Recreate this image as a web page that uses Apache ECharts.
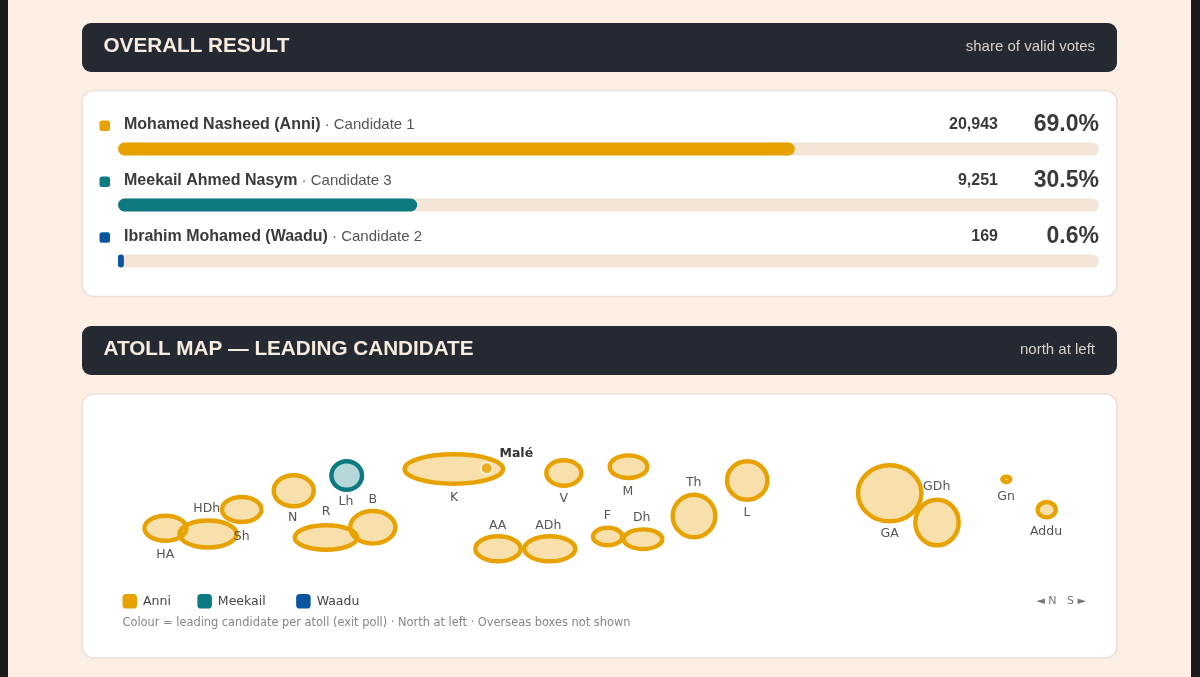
<!DOCTYPE html>
<html><head><meta charset="utf-8">
<style>html,body{margin:0;padding:0;background:#fdefe4}#c{width:1200px;height:677px}</style>
<script src="https://cdn.jsdelivr.net/npm/echarts@6/dist/echarts.min.js"></script>
</head><body><div id="c"></div>
<script>
// Overall result
const candidates = ['Mohamed Nasheed (Anni)', 'Meekail Ahmed Nasym', 'Ibrahim Mohamed (Waadu)'];
const ballot = ['Candidate 1', 'Candidate 3', 'Candidate 2'];
const votes = ['20,943', '9,251', '169'];
const shares = [69.0, 30.5, 0.6];
const shortNames = ['Anni', 'Meekail', 'Waadu'];
// Atoll map (map units, origin top-left of the map panel)
const atollNames = ['HA','HDh','Sh','N','Lh','R','B','K','V','M','AA','ADh','F','Dh','Th','L','GA','GDh','Gn','Addu'];
const atollX = [83.5,126,159.7,211.7,264.7,244,290.8,371.8,481.8,546.5,416,467.8,525.7,561,612,665.2,807.7,855,924.3,964.7];
const atollY = [134.3,140,115.5,96.8,81.5,143.5,133.3,75,79,72.7,154.8,154.8,142.5,145.2,122,86.5,99.3,128.5,85.3,115.7];
const atollRX = [21,28.5,19.7,20,15.3,31.3,22.5,49.2,17.5,18.8,22.7,25.5,14.7,19.3,21.3,20.2,31.7,21.7,4,9];
const atollRY = [12.5,13.5,12.5,15.5,14.2,12.2,16.3,14.7,12.7,11.3,12.5,12.5,8.8,9.8,21.3,19.2,28,22.8,2.7,7.7];
const atollLeader = ['Anni','Anni','Anni','Anni','Meekail','Anni','Anni','Anni','Anni','Anni','Anni','Anni','Anni','Anni','Anni','Anni','Anni','Anni','Anni','Anni'];
const labelX = [83.3,124.7,159.7,210.7,264,244,290.7,372,481.7,546,415.7,466.3,525.3,559.7,611.7,665,807.7,854.7,924,964];
const labelY = [160.8,114.8,142.8,123.5,107.7,118.2,106,103.5,104.8,97.8,132.2,132.2,121.5,123.5,89.2,118.8,139.8,93.2,103.2,137.5];
const capitalName = 'Malé';
const capitalPos = [404.7, 74.3];
const capitalLabelPos = [434.3, 60];

const COL = {Anni:'#E8A200', Meekail:'#0C7A80', Waadu:'#0B559F'};
const FILL = {Anni:'rgba(232,162,0,0.33)', Meekail:'rgba(12,122,128,0.3)', Waadu:'rgba(11,85,159,0.3)'};
const SANS = 'Liberation Sans';
const DJ = 'DejaVu Sans';
const barColors = shortNames.map(n => COL[n]);

function atollSeries(leader){
  const data = atollNames.map((n,i)=>[atollX[i],atollY[i],atollRX[i],atollRY[i],n,atollLeader[i]]).filter(d=>d[5]===leader);
  return {
    type:'custom', name:leader, xAxisIndex:1, yAxisIndex:1, z:3, clip:false,
    itemStyle:{color:COL[leader]},
    data,
    renderItem(p,api){
      const c = api.coord([api.value(0),api.value(1)]);
      const s = api.size([api.value(2),api.value(3)]);
      return {type:'ellipse', shape:{cx:c[0],cy:c[1],rx:s[0],ry:s[1]},
        style:{fill:FILL[leader],stroke:COL[leader],lineWidth:4.4}};
    }
  };
}
function txt(x,y,text,size,weight,fill,align,family){
  return {type:'text',z:10,x,y,style:{text,fill,fontSize:size,fontWeight:weight,fontFamily:family||SANS,align:align||'left',verticalAlign:'middle'}};
}
function panel(x,y,w,h){return {type:'rect',z:0,shape:{x,y,width:w,height:h,r:12},style:{fill:'#fff',stroke:'#ecdfd7',lineWidth:1.6}};}
function header(y,title,sub){return [
  {type:'rect',z:0,shape:{x:82,y,width:1035,height:49,r:9},style:{fill:'#252932'}},
  txt(103.5,y+23,title,20.7,'bold','#f7ecdf'),
  txt(1095,y+24,sub,15,'normal','#d8d2ca','right')
];}
const rowY = [125,181,237];
const dotY = [125.7,181.7,237.5];
const rows = candidates.flatMap((c,i)=>[
  {type:'rect',z:10,shape:{x:99.5,y:dotY[i]-5.2,width:10.5,height:10.5,r:2.5},style:{fill:barColors[i]}},
  {type:'text',z:10,x:124,y:rowY[i],style:{
     text:'{b|'+c+'}{n| · '+ballot[i]+'}',
     rich:{b:{fontWeight:'bold',fontSize:16,fontFamily:SANS,fill:'#3a3a3a'},
           n:{fontSize:15,fontFamily:SANS,fill:'#555'}},
     verticalAlign:'middle'}},
  txt(998,rowY[i],votes[i],16,'bold','#3a3a3a','right'),
  txt(1099,rowY[i],shares[i].toFixed(1)+'%',23,'bold','#3a3a3a','right')
]);

const chart = echarts.init(document.getElementById('c'),null,{renderer:'canvas'});
chart.setOption({
  animation:false,
  backgroundColor:'#fdefe4',
  grid:[
    {left:118,top:121,width:981,height:168},
    {left:82,top:394,width:1035,height:264}
  ],
  xAxis:[
    {type:'value',gridIndex:0,min:0,max:100,show:false},
    {type:'value',gridIndex:1,min:0,max:1035,show:false}
  ],
  yAxis:[
    {type:'category',gridIndex:0,inverse:true,data:candidates,show:false},
    {type:'value',gridIndex:1,min:0,max:264,inverse:true,show:false}
  ],
  legend:{
    data:shortNames,formatter:n=>n==='Meekail'?n+' ':n,
    left:122.5,top:594,padding:0,itemWidth:14.5,itemHeight:14.5,itemGap:26.5,icon:'roundRect',
    selectedMode:false,textStyle:{fontFamily:DJ,fontSize:12.5,color:'#444',padding:[0,0,0,1]}
  },
  series:[
    {type:'bar',xAxisIndex:0,yAxisIndex:0,barWidth:13,z:3,showBackground:true,
     backgroundStyle:{color:'#f3e6d9',borderRadius:6.5},
     itemStyle:{borderRadius:6.5,color:p=>barColors[p.dataIndex]},
     data:shares},
    ...shortNames.map(atollSeries),
    {type:'custom',name:'labels',xAxisIndex:1,yAxisIndex:1,z:5,clip:false,
     data:atollNames.map((n,i)=>[labelX[i],labelY[i],n]),
     renderItem(p,api){
       const c=api.coord([api.value(0),api.value(1)]);
       return {type:'text',x:c[0],y:c[1],style:{text:atollNames[p.dataIndex],fill:'#555',fontSize:12.5,fontFamily:DJ,align:'center',verticalAlign:'middle'}};
     }},
    {type:'scatter',name:capitalName,xAxisIndex:1,yAxisIndex:1,z:6,symbolSize:11.5,
     itemStyle:{color:COL.Anni,borderColor:'#fff',borderWidth:1.5},
     data:[capitalPos]},
    {type:'custom',name:'capitalLabel',xAxisIndex:1,yAxisIndex:1,z:6,clip:false,
     data:[capitalLabelPos],
     renderItem(p,api){
       const c=api.coord([api.value(0),api.value(1)]);
       return {type:'text',x:c[0],y:c[1],style:{text:capitalName,fill:'#333',fontSize:12.5,fontWeight:'bold',fontFamily:DJ,align:'center',verticalAlign:'middle'}};
     }}
  ],
  graphic:[
    {type:'rect',z:0,shape:{x:0,y:0,width:8,height:677},style:{fill:'#1a1a1a'}},
    {type:'rect',z:0,shape:{x:1191,y:0,width:9,height:677},style:{fill:'#1a1a1a'}},
    panel(82,90.5,1035,206),
    panel(82,394,1035,264),
    ...header(23,'OVERALL RESULT','share of valid votes'),
    ...header(326,'ATOLL MAP — LEADING CANDIDATE','north at left'),
    ...rows,
    txt(122.5,623,'Colour = leading candidate per atoll (exit poll) · North at left · Overseas boxes not shown',11.4,'normal','#858585','left',DJ),
    txt(1086,601.5,'◄ N   S ►',11,'normal','#777','right',DJ)
  ]
});
</script></body></html>
